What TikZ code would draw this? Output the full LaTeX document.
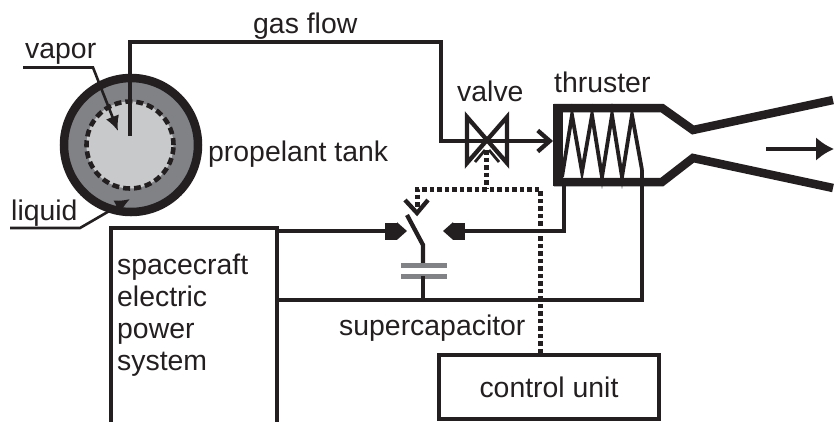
\documentclass[tikz,border=0pt]{standalone}
\usepackage{fontspec}
\setmainfont{Liberation Sans}
\usetikzlibrary{arrows.meta}
\usetikzlibrary{calc}
\definecolor{liquidgray}{HTML}{808285}
\definecolor{vaporgray}{HTML}{C8C9CB}
\definecolor{inkgray}{HTML}{231F20}
\tikzstyle{block} = [rectangle, draw=inkgray, line width=4pt, inner sep=0pt, text=inkgray, font=\fontsize{28.4}{32}\selectfont]
\tikzstyle{tag} = [anchor=base west, inner sep=0pt, text=inkgray, font=\fontsize{28.4}{32}\selectfont]
\tikzstyle{wire} = [draw=inkgray, line width=4.3pt, line join=miter]
\tikzstyle{wall} = [draw=inkgray, line width=8.5pt, line join=miter]
\tikzstyle{pointer} = [draw=inkgray, line width=2.6pt, -{Latex[length=15pt,width=14pt]}]
\tikzstyle{ctrl} = [draw=inkgray, line width=5pt, dash pattern=on 4.5pt off 3pt]
\tikzstyle{terminal} = [wire, -{Rectangle[length=12pt,width=17pt]Triangle[length=10pt,width=17pt]}]
\tikzstyle{plate} = [line width=5pt, draw=liquidgray]

\begin{document}
\begin{tikzpicture}[x=1pt, y=-1pt]
  \useasboundingbox (0,0) rectangle (834,421);

  % Tank
  \node [circle, draw=inkgray, fill=liquidgray, line width=8.5pt, minimum size=134pt, inner sep=0pt] (tank) at (131,145) {};
  \node [circle, draw=inkgray, fill=vaporgray, line width=4.6pt, dash pattern=on 7pt off 4pt, minimum size=87pt, inner sep=0pt] (vapor) at (130,145) {};
  \node [tag] (tankname) at (208,161) {propelant tank};

  % Tank labels
  \node [tag] (vaporname) at (25,58) {vapor};
  \node [tag] (liquidname) at (11,220) {liquid};
  \draw [pointer] (23,67.5) -- (93,67.5) -- (118,131);
  \draw [pointer] (10,228) -- (80,228) -- (130,199);

  % Valve
  \coordinate (valve) at (487,141);
  \draw [wire, shift={(valve)}] (-20,-24) -- (20,22) -- (20,-24) -- (-20,22) -- cycle;
  \draw [wire, line width=2.8pt, shift={(valve)}] (-2,9) -- (-12,21);
  \draw [wire, line width=2.8pt, shift={(valve)}] (2,9) -- (12,21);
  \node [tag] (valvename) at (457,101) {valve};

  % Thruster
  \coordinate (inlet) at (553,141);
  \draw [wall] (833,100) -- (693,130) -- (662,108) -- (558,108) -- (558,182) -- (662,182) -- (693,158) -- (833,188);
  \draw [draw=inkgray, line width=10pt] (558,104) -- (558,186);
  \draw [wire, line width=3.8pt] (562,177) -- (572,115) -- (582,172) -- (592,115) -- (602,177) -- (612,115) -- (622,177) -- (632,115) -- (642,170);
  \node [tag] (thrustername) at (554,92) {thruster};
  \draw [wire, -{Latex[length=18pt,width=24pt]}] (766,149) -- (834,149);

  % Gas flow
  \coordinate (pipeend) at (130,136);
  \draw [wire, -{Straight Barb[length=12pt,width=21pt]}] (pipeend) -- (130,42) -- (441,42) -- (441,141) -- (inlet);
  \node [tag] (gasname) at (253,33) {gas flow};

  % Blocks
  \node [block, anchor=north west, minimum width=166pt, minimum height=210pt] (power) at (109,226) {};
  \node [tag, anchor=north west, align=left] (powername) at (117,254) {spacecraft\\electric\\power\\system};
  \node [block, anchor=north west, minimum width=220pt, minimum height=64pt] (control) at (437,353) {control unit};

  % Switch
  \coordinate (swin) at (407,231);
  \coordinate (swout) at (443,231);
  \coordinate (swtop) at (407,215);
  \coordinate (swpin) at (423,245);
  \coordinate (capbot) at (423,300);
  \draw [terminal] (power.east |- swin) -- (swin);
  \draw [terminal] (564,186) -- (564,231) -- (swout);
  \draw [wire] (swtop) -- (swpin) -- (423,265);

  % Supercapacitor
  \draw [plate] (401,265) -- (447,265);
  \draw [plate] (401,276) -- (447,276);
  \draw [wire] (423,276) -- (capbot);
  \draw [wire] (power.east |- capbot) -- (642,300) -- (642,170);
  \node [tag] (capname) at (339,335) {supercapacitor};

  % Control lines
  \coordinate (ctrlbus) at (540,189);
  \coordinate (vtip) at (417,213);
  \draw [ctrl] (control.north -| ctrlbus) -- (ctrlbus) -- (417,189) -- (vtip);
  \draw [ctrl] (486,150) -- (486,189);
  \draw [wire] (405,200) -- (vtip) -- (428,200);

  \end{tikzpicture}
\end{document}
